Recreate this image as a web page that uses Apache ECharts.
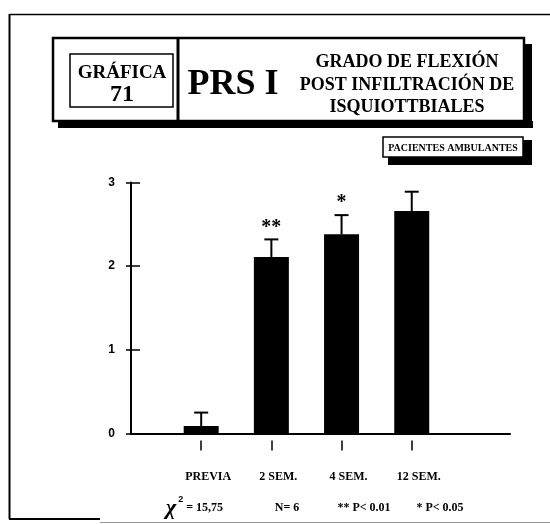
<!DOCTYPE html>
<html>
<head>
<meta charset="utf-8">
<script src="https://cdn.jsdelivr.net/npm/echarts@6/dist/echarts.min.js"></script>
<style>
  html, body { margin: 0; padding: 0; background: #fff; }
  #chart { width: 550px; height: 524px; }
</style>
</head>
<body>
<div id="chart"></div>
<script>
// Categories (follow-up moments) and flexion grade per moment
const categories = ['PREVIA', '2 SEM.', '4 SEM.', '12 SEM.'];
const positions = [1, 2, 3, 4];
const means = [0.09, 2.11, 2.38, 2.66];
const errors = [0.16, 0.21, 0.23, 0.23];
const stars = ['', '**', '*', ''];
const yTicks = [0, 1, 2, 3];
const footnotes = ['= 15,75', 'N= 6', '** P< 0.01', '* P< 0.05'];

const SERIF = '"Liberation Serif", "Times New Roman", serif';
const SANS = '"Liberation Sans", Arial, sans-serif';

const barData = positions.map((p, i) => [p, means[i]]);
const errData = positions.map((p, i) => [p, means[i], means[i] + errors[i], stars[i]]);

const chart = echarts.init(document.getElementById('chart'), null, { renderer: 'canvas' });

// Static frame and header boxes
const frame = [
  { type: 'line', shape: { x1: 10, y1: 14.5, x2: 550, y2: 14.5 }, style: { stroke: '#000', lineWidth: 1.5 } },
  { type: 'line', shape: { x1: 9.5, y1: 14, x2: 9.5, y2: 519 }, style: { stroke: '#000', lineWidth: 2 } },
  { type: 'line', shape: { x1: 9, y1: 519, x2: 100, y2: 519 }, style: { stroke: '#000', lineWidth: 2 } },
  { type: 'line', shape: { x1: 100, y1: 522.5, x2: 550, y2: 522.5 }, style: { stroke: '#999', lineWidth: 1 } },
  // header shadow
  { type: 'rect', shape: { x: 58, y: 121, width: 475, height: 7 }, style: { fill: '#000' } },
  { type: 'rect', shape: { x: 524, y: 44, width: 8, height: 84 }, style: { fill: '#000' } },
  // header box
  { type: 'rect', shape: { x: 53, y: 38, width: 471, height: 83 }, style: { fill: '#fff', stroke: '#000', lineWidth: 2.5 } },
  { type: 'line', shape: { x1: 178, y1: 38, x2: 178, y2: 121 }, style: { stroke: '#000', lineWidth: 3 } },
  // GRÁFICA box
  { type: 'rect', shape: { x: 70, y: 54, width: 103, height: 53 }, style: { fill: '#fff', stroke: '#000', lineWidth: 1.5 } },
  { type: 'text', x: 122, y: 73, style: { text: 'GRÁFICA', font: 'bold 19px ' + SERIF, fill: '#000', align: 'center', verticalAlign: 'middle' } },
  { type: 'text', x: 122, y: 95, style: { text: '71', font: 'bold 24px ' + SERIF, fill: '#000', align: 'center', verticalAlign: 'middle' } },
  { type: 'text', x: 233, y: 85, style: { text: 'PRS I', font: 'bold 36px ' + SERIF, fill: '#000', align: 'center', verticalAlign: 'middle' } },
  { type: 'text', x: 407, y: 62, style: { text: 'GRADO DE FLEXIÓN', font: 'bold 18px ' + SERIF, fill: '#000', align: 'center', verticalAlign: 'middle' } },
  { type: 'text', x: 407, y: 85, style: { text: 'POST INFILTRACIÓN DE', font: 'bold 18px ' + SERIF, fill: '#000', align: 'center', verticalAlign: 'middle' } },
  { type: 'text', x: 407, y: 107, style: { text: 'ISQUIOTTBIALES', font: 'bold 18px ' + SERIF, fill: '#000', align: 'center', verticalAlign: 'middle' } },
  // patients box
  { type: 'rect', shape: { x: 388, y: 157, width: 144, height: 8 }, style: { fill: '#000' } },
  { type: 'rect', shape: { x: 523, y: 140, width: 9, height: 25 }, style: { fill: '#000' } },
  { type: 'rect', shape: { x: 383, y: 137, width: 140, height: 20 }, style: { fill: '#fff', stroke: '#000', lineWidth: 1.5 } },
  { type: 'text', x: 453, y: 148, style: { text: 'PACIENTES AMBULANTES', font: 'bold 10px ' + SERIF, fill: '#000', align: 'center', verticalAlign: 'middle' } },
  // footnote row
  { type: 'text', x: 166, y: 508, style: { text: '{chi|χ}{sup|2}{n| ' + footnotes[0] + '}', fill: '#000', verticalAlign: 'middle',
      rich: { chi: { font: 'italic bold 22px ' + SERIF }, sup: { font: 'bold 9px ' + SANS, padding: [0, 0, 16, 2] }, n: { font: 'bold 12px ' + SERIF } } } },
  { type: 'text', x: 287, y: 508, style: { text: footnotes[1], font: 'bold 12px ' + SERIF, fill: '#000', align: 'center', verticalAlign: 'middle' } },
  { type: 'text', x: 364, y: 508, style: { text: footnotes[2], font: 'bold 12px ' + SERIF, fill: '#000', align: 'center', verticalAlign: 'middle' } },
  { type: 'text', x: 440, y: 508, style: { text: footnotes[3], font: 'bold 12px ' + SERIF, fill: '#000', align: 'center', verticalAlign: 'middle' } }
];

const option = {
  animation: false,
  backgroundColor: '#fff',
  graphic: { elements: frame },
  grid: { left: 131, right: 40, top: 182.5, bottom: 90.5, containLabel: false },
  xAxis: [
    {
      type: 'value', min: 0, max: 5.4,
      axisLine: { show: true, onZero: false, lineStyle: { color: '#000', width: 2 } },
      axisTick: { show: false }, axisLabel: { show: false }, splitLine: { show: false }
    },
    {
      type: 'value', min: 0, max: 5.4, position: 'bottom', offset: 7,
      axisLine: { show: true, onZero: false, lineStyle: { color: 'rgba(0,0,0,0)', width: 0 } },
      axisTick: { show: true, customValues: positions, length: 10, lineStyle: { color: '#000', width: 1.5 } },
      axisLabel: {
        show: true, customValues: positions, margin: 30,
        formatter: v => categories[positions.indexOf(v)] || '',
        fontFamily: SERIF, fontWeight: 'bold', fontSize: 12, color: '#000', padding: [0, 0, 0, 14]
      },
      splitLine: { show: false }
    }
  ],
  yAxis: [
    {
      type: 'value', min: 0, max: 3, interval: 1, position: 'left',
      axisLine: { show: true, lineStyle: { color: '#000', width: 2 } },
      axisTick: { show: true, length: 5, lineStyle: { color: '#000', width: 1.5 } },
      axisLabel: { margin: 16, color: '#000', fontFamily: SANS, fontWeight: 'bold', fontSize: 12,
                   formatter: v => yTicks.indexOf(v) >= 0 ? String(v) : '' },
      splitLine: { show: false }
    },
    {
      type: 'value', min: 0, max: 3, interval: 1, position: 'left',
      axisLine: { show: false },
      axisTick: { show: true, inside: true, length: 9, lineStyle: { color: '#000', width: 1.5 } },
      axisLabel: { show: false }, splitLine: { show: false }
    }
  ],
  series: [
    {
      type: 'bar', xAxisIndex: 0, yAxisIndex: 0,
      data: barData, barWidth: 35,
      itemStyle: { color: '#000' }
    },
    {
      type: 'custom', xAxisIndex: 0, yAxisIndex: 0,
      data: errData,
      encode: { x: 0, y: [1, 2] },
      renderItem: function (params, api) {
        const x = api.value(0);
        const base = api.coord([x, api.value(1)]);
        const top = api.coord([x, api.value(2)]);
        const label = errData[params.dataIndex][3];
        const children = [
          { type: 'line', shape: { x1: base[0], y1: base[1], x2: top[0], y2: top[1] }, style: { stroke: '#000', lineWidth: 2 } },
          { type: 'line', shape: { x1: top[0] - 7, y1: top[1], x2: top[0] + 7, y2: top[1] }, style: { stroke: '#000', lineWidth: 2 } }
        ];
        if (label) {
          children.push({ type: 'text', x: top[0], y: top[1] - 12, style: { text: label, font: 'bold 20px ' + SERIF, fill: '#000', align: 'center', verticalAlign: 'middle' } });
        }
        return { type: 'group', children: children };
      },
      z: 3
    }
  ]
};

chart.setOption(option);
</script>
</body>
</html>
